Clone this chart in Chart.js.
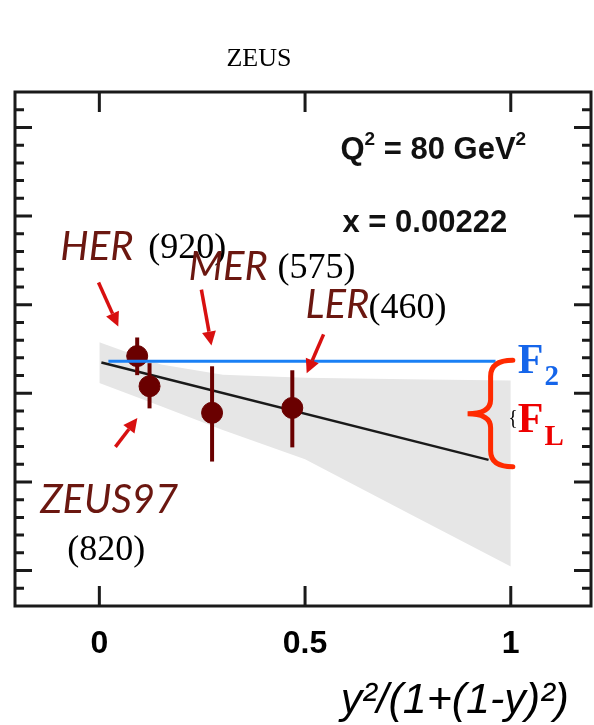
<!DOCTYPE html>
<html>
<head>
<meta charset="utf-8">
<title>ZEUS F_L</title>
<script src="https://cdn.jsdelivr.net/npm/chart.js@4.4.0/dist/chart.umd.min.js"></script>
<style>
  html, body { margin: 0; padding: 0; background: #fff; }
  #wrap { width: 594px; height: 725px; }
</style>
</head>
<body>
<div id="wrap"><canvas id="myChart" width="594" height="725"></canvas></div>
<script>
// reduced cross section points vs y^2/(1+(1-y)^2)
var runNames = ['HER', 'ZEUS97', 'MER', 'LER'];
var runX = [0.092, 0.122, 0.274, 0.469];
var runY = [0.684, 0.616, 0.556, 0.567];
var runErrLow = [0.641, 0.566, 0.446, 0.478];
var runErrHigh = [0.726, 0.668, 0.661, 0.652];

// straight line fit and its error band
var fitX = [0.005, 0.946];
var fitY = [0.6695, 0.4497];
var bandX = [0, 0.15, 0.3, 0.5, 0.75, 1.0];
var bandTop = [0.715, 0.665, 0.642, 0.635, 0.632, 0.629];
var bandBottom = [0.623, 0.571, 0.517, 0.451, 0.330, 0.209];

// F2 level
var f2X = [0.022, 0.963];
var f2Y = [0.6724, 0.6724];

var xTicks = [0, 0.5, 1];

var markColor = '#6a0000';
var textBrown = '#6b1710';
var arrowRed = '#d81010';

function pts(xs, ys) {
	var out = [];
	for (var i = 0; i < xs.length; i++) out.push({ x: xs[i], y: ys[i] });
	return out;
}

// first dataset ends up on top
var datasets = [];
datasets.push({
	data: pts(f2X, f2Y), borderColor: '#1a80f5', borderWidth: 3, pointRadius: 0
});
datasets.push({
	data: pts(runX, runY), showLine: false, pointRadius: 10.5,
	pointBackgroundColor: markColor, pointBorderColor: markColor, pointBorderWidth: 1
});
for (var i = 0; i < runX.length; i++) {
	datasets.push({
		data: [{ x: runX[i], y: runErrLow[i] }, { x: runX[i], y: runErrHigh[i] }],
		borderColor: markColor, borderWidth: 4, pointRadius: 0
	});
}
datasets.push({
	data: pts(fitX, fitY), borderColor: '#1a1a1a', borderWidth: 2.5, pointRadius: 0
});
datasets.push({
	data: pts(bandX, bandTop), borderColor: 'rgba(0,0,0,0)', borderWidth: 1, pointRadius: 0,
	fill: '+1', backgroundColor: '#e6e6e6'
});
datasets.push({
	data: pts(bandX, bandBottom), borderColor: 'rgba(0,0,0,0)', borderWidth: 1, pointRadius: 0,
	fill: false
});

// labels and arrows, placed in data units
var runFont = 'italic 40px Lato';
var beamFont = '36px "Liberation Serif"';
var labels = [
	{ t: 'HER', x: -0.095, y: 0.900, font: runFont, c: textBrown },
	{ t: '(920)', x: 0.119, y: 0.906, font: beamFont, c: '#000' },
	{ t: 'MER', x: 0.2165, y: 0.855, font: runFont, c: textBrown },
	{ t: '(575)', x: 0.433, y: 0.861, font: beamFont, c: '#000' },
	{ t: 'LER', x: 0.501, y: 0.769, font: runFont, c: textBrown },
	{ t: '(460)', x: 0.6545, y: 0.771, font: beamFont, c: '#000' },
	{ t: 'ZEUS97', x: -0.1436, y: 0.3305, font: runFont, c: textBrown },
	{ t: '(820)', x: -0.078, y: 0.2247, font: beamFont, c: '#000' }
];
var arrows = [
	[[-0.002, 0.850], [0.046, 0.751]],
	[[0.248, 0.834], [0.2725, 0.708]],
	[[0.545, 0.733], [0.504, 0.645]],
	[[0.039, 0.479], [0.0925, 0.544]]
];

function drawRuns(ctx, x, y, runs) {
	runs.forEach(function(r) {
		ctx.font = r.font;
		ctx.fillStyle = r.c;
		ctx.fillText(r.t, x, y + (r.dy || 0));
		x += ctx.measureText(r.t).width + (r.gap || 0);
	});
}

var framePlugin = {
	id: 'frame',
	afterDraw: function(chart) {
		var ctx = chart.ctx;
		var a = chart.chartArea;
		var xs = chart.scales.x, ys = chart.scales.y;
		function px(x) { return xs.getPixelForValue(x); }
		function py(y) { return ys.getPixelForValue(y); }
		ctx.save();

		// frame
		ctx.strokeStyle = '#1a1a1a';
		ctx.lineWidth = 3;
		ctx.strokeRect(a.left, a.top, a.right - a.left, a.bottom - a.top);

		// inward ticks
		ctx.lineWidth = 3;
		ctx.beginPath();
		ys.ticks.forEach(function(t) {
			var r = t.value / 0.2;
			var major = Math.abs(r - Math.round(r)) < 1e-6;
			var len = major ? 17 : 9;
			var y = py(t.value);
			if (y <= a.top + 2 || y >= a.bottom - 2) return;
			ctx.moveTo(a.left, y); ctx.lineTo(a.left + len, y);
			ctx.moveTo(a.right, y); ctx.lineTo(a.right - len, y);
		});
		xTicks.forEach(function(v) {
			var x = px(v);
			ctx.moveTo(x, a.top); ctx.lineTo(x, a.top + 20);
			ctx.moveTo(x, a.bottom); ctx.lineTo(x, a.bottom - 20);
		});
		ctx.stroke();

		// arrows
		ctx.strokeStyle = arrowRed;
		ctx.fillStyle = arrowRed;
		ctx.lineWidth = 3.5;
		arrows.forEach(function(ar) {
			var x0 = px(ar[0][0]), y0 = py(ar[0][1]);
			var x1 = px(ar[1][0]), y1 = py(ar[1][1]);
			var ang = Math.atan2(y1 - y0, x1 - x0);
			var hl = 14, hw = 7;
			var bx = x1 - hl * Math.cos(ang), by = y1 - hl * Math.sin(ang);
			ctx.beginPath();
			ctx.moveTo(x0, y0); ctx.lineTo(bx, by);
			ctx.stroke();
			ctx.beginPath();
			ctx.moveTo(x1, y1);
			ctx.lineTo(bx + hw * Math.sin(ang), by - hw * Math.cos(ang));
			ctx.lineTo(bx - hw * Math.sin(ang), by + hw * Math.cos(ang));
			ctx.closePath();
			ctx.fill();
		});

		// run labels
		ctx.textBaseline = 'alphabetic';
		ctx.textAlign = 'left';
		labels.forEach(function(l) {
			ctx.font = l.font;
			ctx.fillStyle = l.c;
			ctx.fillText(l.t, px(l.x), py(l.y));
		});

		// kinematics
		var bold = 'bold 31px "Liberation Sans"';
		var sup = 'bold 19px "Liberation Sans"';
		drawRuns(ctx, px(0.586), py(1.129), [
			{ t: 'Q', font: bold, c: '#111' },
			{ t: '2', font: sup, c: '#111', dy: -14 },
			{ t: ' = 80 GeV', font: bold, c: '#111' },
			{ t: '2', font: sup, c: '#111', dy: -14 }
		]);
		drawRuns(ctx, px(0.591), py(0.963), [
			{ t: 'x = 0.00222', font: bold, c: '#111' }
		]);

		// brace between F2 and the fit at x = 1
		var bTop = py(0.6747), bBot = py(0.434), bMid = py(0.5539);
		var bEnd = px(1.005), bSpine = px(0.951), bTip = px(0.895);
		ctx.strokeStyle = '#ff2a00';
		ctx.lineWidth = 5;
		ctx.lineCap = 'round';
		ctx.beginPath();
		ctx.moveTo(bEnd, bTop);
		ctx.quadraticCurveTo(bSpine, bTop, bSpine, bTop + 16);
		ctx.lineTo(bSpine, bMid - 14);
		ctx.quadraticCurveTo(bSpine, bMid, bTip, bMid);
		ctx.quadraticCurveTo(bSpine, bMid, bSpine, bMid + 14);
		ctx.lineTo(bSpine, bBot - 16);
		ctx.quadraticCurveTo(bSpine, bBot, bEnd, bBot);
		ctx.stroke();

		var fBig = 'bold 42px "Liberation Serif"';
		var fSub = 'bold 29px "Liberation Serif"';
		drawRuns(ctx, px(1.017), py(0.6454), [
			{ t: 'F', font: fBig, c: '#1565ea', gap: 1 },
			{ t: '2', font: fSub, c: '#1565ea', dy: 12 }
		]);
		drawRuns(ctx, px(1.017), py(0.5127), [
			{ t: 'F', font: fBig, c: '#ee0000', gap: 1 },
			{ t: 'L', font: fSub, c: '#ee0000', dy: 13 }
		]);
		ctx.font = '20px "Liberation Serif"';
		ctx.fillStyle = '#000';
		ctx.textBaseline = 'middle';
		ctx.fillText('{', px(0.994), py(0.542));

		// title and axis title
		ctx.textBaseline = 'alphabetic';
		ctx.textAlign = 'center';
		ctx.font = '26px "Liberation Serif"';
		ctx.fillStyle = '#000';
		ctx.fillText('ZEUS', px(0.388), a.top - 26);
		ctx.textAlign = 'right';
		ctx.font = 'italic 43px "Liberation Sans"';
		ctx.fillText('y²/(1+(1-y)²)', px(1.141), a.bottom + 107);

		ctx.restore();
	}
};

var ctx = document.getElementById('myChart').getContext('2d');
var chart = new Chart(ctx, {
	type: 'line',
	data: { datasets: datasets },
	options: {
		responsive: false,
		animation: false,
		events: [],
		layout: { autoPadding: false, padding: { left: 15, right: 3, top: 92, bottom: 59 } },
		plugins: {
			legend: { display: false },
			tooltip: { enabled: false },
			title: { display: false }
		},
		scales: {
			x: {
				type: 'linear',
				min: -0.205,
				max: 1.195,
				grid: { display: false },
				border: { display: false },
				afterBuildTicks: function(scale) {
					scale.ticks = xTicks.map(function(v) { return { value: v }; });
				},
				afterFit: function(scale) {
					scale.height = 60;
					scale.paddingLeft = 0;
					scale.paddingRight = 0;
				},
				ticks: {
					color: '#000',
					padding: 11,
					font: { family: '"Liberation Sans"', size: 32, weight: 'bold' },
					callback: function(v) { return String(v); }
				}
			},
			y: {
				type: 'linear',
				min: 0.12,
				max: 1.28,
				grid: { display: false },
				border: { display: false },
				ticks: { display: false, stepSize: 0.04 },
				afterFit: function(scale) { scale.width = 0; }
			}
		}
	},
	plugins: [framePlugin]
});
</script>
</body>
</html>
